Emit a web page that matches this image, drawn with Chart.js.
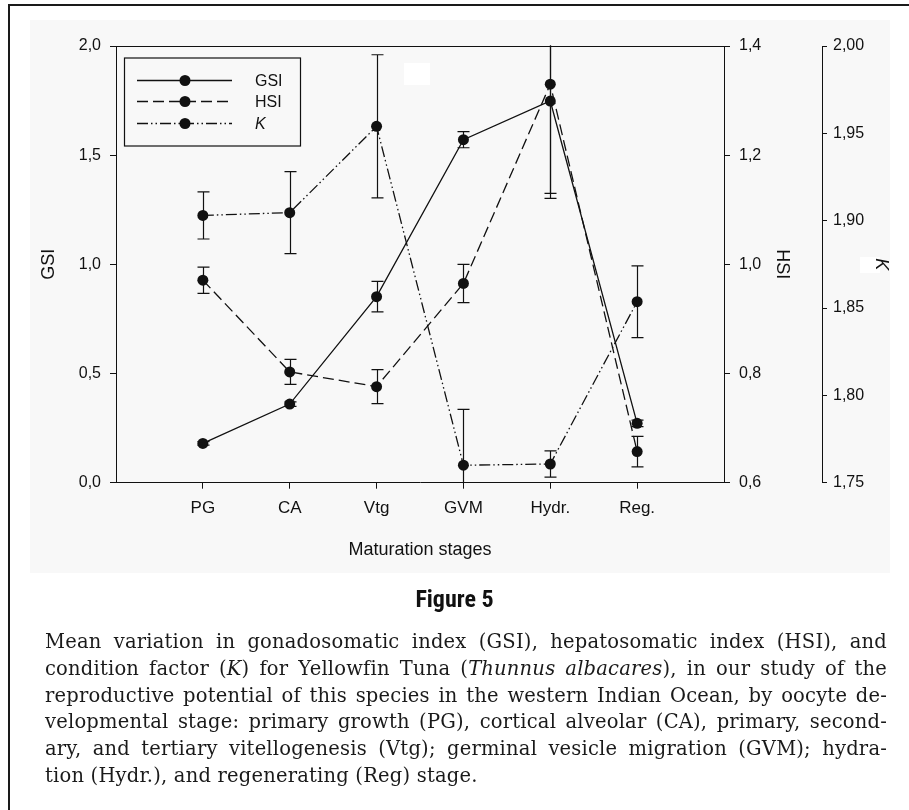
<!DOCTYPE html>
<html>
<head>
<meta charset="utf-8">
<script src="https://cdn.jsdelivr.net/npm/chart.js@4.4.1/dist/chart.umd.min.js"></script>
<style>
  html, body { margin: 0; padding: 0; background: #fff; }
  #wrap { position: relative; width: 909px; height: 810px; overflow: hidden; }
  #c { position: absolute; left: 0; top: 0; }
  #frameTop { position: absolute; left: 8px; top: 4px; width: 901px; height: 2px; background: #1a1a1a; }
  #frameLeft { position: absolute; left: 8px; top: 4px; width: 2px; height: 806px; background: #1a1a1a; }
  #figtitle { position: absolute; left: 0; width: 909px; top: 585px; line-height: 28px; text-align: center;
    font-family: "Liberation Sans Narrow", "Roboto Condensed", "DejaVu Sans Condensed", "Liberation Sans", sans-serif;
    font-weight: bold; font-size: 24px; color: #111; }
  #caption { position: absolute; left: 45px; width: 842px; top: 629px;
    font-family: "DejaVu Serif", "Liberation Serif", serif; font-size: 19.5px; letter-spacing: 0.2px;
    line-height: 26.8px; color: #1a1a1a; }
  #caption div { text-align: justify; text-align-last: justify; white-space: nowrap; }
  #caption div.last { text-align-last: left; }
</style>
</head>
<body>
<div id="wrap">
  <canvas id="c" width="909" height="810"></canvas>
  <div id="frameTop"></div>
  <div id="frameLeft"></div>
  <div id="figtitle">Figure 5</div>
  <div id="caption">
    <div>Mean variation in gonadosomatic index (GSI), hepatosomatic index (HSI), and</div>
    <div>condition factor (<i>K</i>) for Yellowfin Tuna (<i>Thunnus albacares</i>), in our study of the</div>
    <div>reproductive potential of this species in the western Indian Ocean, by oocyte de-</div>
    <div>velopmental stage: primary growth (PG), cortical alveolar (CA), primary, second-</div>
    <div>ary, and tertiary vitellogenesis (Vtg); germinal vesicle migration (GVM); hydra-</div>
    <div class="last">tion (Hydr.), and regenerating (Reg) stage.</div>
  </div>
</div>
<script>
// ---- data ----
const stages = ["PG", "CA", "Vtg", "GVM", "Hydr.", "Reg."];
const seriesNames = ["GSI", "HSI", "K"];
const gsiMean = [0.180, 0.360, 0.852, 1.571, 1.748, 0.272];
const gsiErr  = [0.008, 0.010, 0.070, 0.037, 0.423, 0.015];
const hsiMean = [0.971, 0.803, 0.776, 0.965, 1.330, 0.657];
const hsiErr  = [0.024, 0.023, 0.031, 0.035, 0.209, 0.028];
const kMean   = [1.903, 1.9046, 1.954, 1.760, 1.7607, 1.8536];
const kErr    = [0.0135, 0.0235, 0.041, 0.032, 0.0075, 0.0205];
const gsiTicks = [0, 0.5, 1.0, 1.5, 2.0];
const hsiTicks = [0.6, 0.8, 1.0, 1.2, 1.4];
const kTicks   = [1.75, 1.80, 1.85, 1.90, 1.95, 2.00];

const toPts = arr => arr.map((v, i) => ({ x: i + 1, y: v }));
const comma = (v, d) => v.toFixed(d).replace('.', ',');

const FONT = "'Liberation Sans', Arial, Helvetica, sans-serif";
const INK = '#111';

const bgPlugin = {
  id: 'bg',
  beforeDraw(chart) {
    const ctx = chart.ctx;
    ctx.save();
    ctx.fillStyle = '#f8f8f8';
    ctx.fillRect(30, 20, 860, 553);
    ctx.fillStyle = '#ffffff';
    ctx.fillRect(860, 257, 20, 16);
    ctx.restore();
  },
  beforeDatasetsDraw(chart) {
    const ctx = chart.ctx, a = chart.chartArea;
    ctx.save();
    ctx.fillStyle = '#ffffff';
    ctx.fillRect(404, 63, 26, 22);
    ctx.strokeStyle = INK; ctx.lineWidth = 1;
    ctx.beginPath();
    ctx.moveTo(a.left - 6, Math.round(a.top) + 0.5);
    ctx.lineTo(a.right, Math.round(a.top) + 0.5);
    ctx.stroke();
    ctx.restore();
  }
};

const errPlugin = {
  id: 'errbars',
  afterDatasetsDraw(chart) {
    const ctx = chart.ctx, a = chart.chartArea;
    ctx.save();
    ctx.beginPath();
    ctx.rect(a.left, a.top - 0.5, a.right - a.left, a.bottom - a.top + 1);
    ctx.clip();
    ctx.strokeStyle = INK; ctx.lineWidth = 1.2; ctx.setLineDash([]);
    chart.data.datasets.forEach((ds) => {
      const ys = chart.scales[ds.yAxisID];
      const xs = chart.scales.x;
      ds.data.forEach((p, i) => {
        const e = ds.errors[i];
        const x = Math.round(xs.getPixelForValue(p.x)) + 0.5;
        const y1 = ys.getPixelForValue(p.y + e);
        const y2 = ys.getPixelForValue(p.y - e);
        ctx.beginPath();
        ctx.moveTo(x, y1); ctx.lineTo(x, y2);
        ctx.moveTo(x - 6, y1); ctx.lineTo(x + 6, y1);
        ctx.moveTo(x - 6, y2); ctx.lineTo(x + 6, y2);
        ctx.stroke();
      });
    });
    ctx.restore();
  }
};

const legendPlugin = {
  id: 'boxlegend',
  afterDraw(chart) {
    const ctx = chart.ctx;
    ctx.save();
    ctx.fillStyle = '#f8f8f8';
    ctx.fillRect(124.5, 58, 176, 88);
    ctx.strokeStyle = INK; ctx.lineWidth = 1.2;
    ctx.strokeRect(124.5, 58, 176, 88);
    const rows = [80, 101, 123];
    chart.data.datasets.forEach((ds, i) => {
      const y = rows[i] + 0.5;
      ctx.setLineDash(ds.borderDash || []);
      ctx.lineWidth = 1.3;
      ctx.beginPath(); ctx.moveTo(137, y); ctx.lineTo(232, y); ctx.stroke();
      ctx.setLineDash([]);
      ctx.fillStyle = INK;
      ctx.beginPath(); ctx.arc(185, y, 5.5, 0, Math.PI * 2); ctx.fill();
      ctx.font = (i === 2 ? 'italic ' : '') + '16px ' + FONT;
      ctx.textBaseline = 'middle';
      ctx.fillText(seriesNames[i], 255, y + 1);
    });
    ctx.restore();
  }
};

function lineDs(label, means, errs, axis, dash) {
  return {
    label, data: toPts(means), errors: errs, yAxisID: axis,
    borderColor: INK, backgroundColor: INK, borderWidth: 1.3, borderDash: dash,
    pointRadius: 5.5, pointHoverRadius: 5.5, pointBackgroundColor: INK,
    pointBorderColor: INK, pointBorderWidth: 0, tension: 0, fill: false
  };
}

const axisCommon = {
  grid: { display: true, drawOnChartArea: false, drawTicks: true, tickLength: 6, color: INK, lineWidth: 1 },
  border: { display: true, color: INK, width: 1 },
};

new Chart(document.getElementById('c'), {
  type: 'line',
  data: {
    datasets: [
      lineDs(seriesNames[0], gsiMean, gsiErr, 'y', []),
      lineDs(seriesNames[1], hsiMean, hsiErr, 'y1', [11, 5]),
      lineDs(seriesNames[2], kMean, kErr, 'y2', [11, 3, 1.5, 3, 1.5, 3])
    ]
  },
  options: {
    responsive: false,
    animation: false,
    events: [],
    layout: { padding: { left: 30, right: 16, top: 46, bottom: 227.3 } },
    plugins: { legend: { display: false }, tooltip: { enabled: false } },
    scales: {
      x: {
        type: 'linear', min: 0, max: 7, position: 'bottom',
        ...axisCommon,
        afterBuildTicks: s => { s.ticks = stages.map((_, i) => ({ value: i + 1 })); },
        afterFit: s => { s.height = 100; },
        ticks: { color: INK, font: { family: FONT, size: 17 }, padding: 9, maxRotation: 0, autoSkip: false,
                 callback: v => stages[v - 1] },
        title: { display: true, text: 'Maturation stages', color: INK, font: { family: FONT, size: 18 },
                 padding: { top: 0, bottom: 22 } }
      },
      y: {
        type: 'linear', position: 'left', min: 0, max: 2,
        ...axisCommon,
        afterBuildTicks: s => { s.ticks = gsiTicks.map(v => ({ value: v })); },
        afterFit: s => { s.width = 86; },
        ticks: { color: INK, font: { family: FONT, size: 16 }, padding: 9, callback: v => comma(v, 1) },
        title: { display: true, text: 'GSI', color: INK, font: { family: FONT, size: 18 }, padding: { top: 8, bottom: 0 } }
      },
      y1: {
        type: 'linear', position: 'right', min: 0.6, max: 1.4, weight: 1,
        ...axisCommon,
        afterBuildTicks: s => { s.ticks = hsiTicks.map(v => ({ value: v })); },
        afterFit: s => { s.width = 98; },
        ticks: { color: INK, font: { family: FONT, size: 16 }, padding: 9, callback: v => comma(v, 1) },
        title: { display: true, text: 'HSI', color: INK, font: { family: FONT, size: 18 }, padding: { top: 29, bottom: 0 } }
      },
      y2: {
        type: 'linear', position: 'right', min: 1.75, max: 2.0, weight: 2,
        ...axisCommon,
        afterBuildTicks: s => { s.ticks = kTicks.map(v => ({ value: v })); },
        afterFit: s => { s.width = 71; },
        grid: { ...axisCommon.grid, tickLength: 5 },
        ticks: { color: INK, font: { family: FONT, size: 16 }, padding: 6, callback: v => comma(v, 2) },
        title: { display: true, text: 'K', color: INK, font: { family: FONT, size: 18, style: 'italic' }, padding: { top: 1, bottom: 0 } }
      }
    }
  },
  plugins: [bgPlugin, errPlugin, legendPlugin]
});
</script>
</body>
</html>
